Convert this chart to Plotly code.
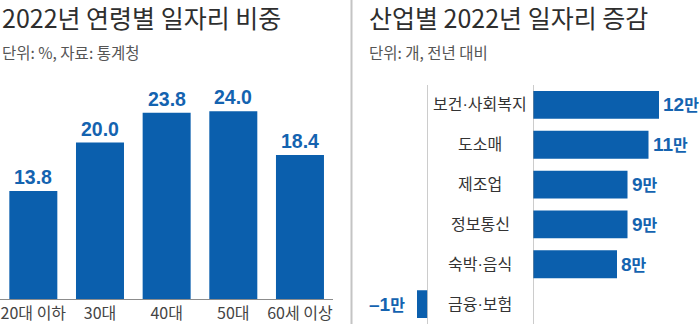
import plotly.graph_objects as go

# 연령별 일자리 비중 (%)
age_groups = ["20대 이하", "30대", "40대", "50대", "60세 이상"]
age_share = [13.8, 20.0, 23.8, 24.0, 18.4]

# 산업별 일자리 증감 (만 개, 전년 대비)
industries = ["보건·사회복지", "도소매", "제조업", "정보통신", "숙박·음식", "금융·보험"]
industry_change = [12, 11, 9, 9, 8, -1]

W, H = 700, 324
BLUE = "#0b5fad"
LABEL_BLUE = "#1463b0"
KR = "Noto Sans CJK KR"
NUM = "Liberation Sans, Arial, Noto Sans CJK KR"
MIXED = "Liberation Sans, Noto Sans CJK KR"


def px(x):
    return x / W


def py(y):
    return (H - y) / H


fig = go.Figure()

# Left panel: vertical bars by age group
fig.add_trace(go.Bar(
    x=age_groups, y=age_share, marker_color=BLUE, marker_line_width=0,
    xaxis="x", yaxis="y", hoverinfo="skip",
))

# Right panel: positive and negative industries on split axes
pos_cats = [c for c, v in zip(industries, industry_change) if v >= 0]
pos_vals = [v for v in industry_change if v >= 0]
neg_cats = [c for c, v in zip(industries, industry_change) if v < 0]
neg_vals = [v for v in industry_change if v < 0]

fig.add_trace(go.Bar(
    x=pos_vals, y=pos_cats, orientation="h", marker_color=BLUE,
    marker_line_width=0, xaxis="x2", yaxis="y2", hoverinfo="skip", width=0.7,
))
fig.add_trace(go.Bar(
    x=neg_vals, y=neg_cats, orientation="h", marker_color=BLUE,
    marker_line_width=0, xaxis="x3", yaxis="y2", hoverinfo="skip", width=0.7,
))

annotations = []

# value labels above vertical bars
for cat, val in zip(age_groups, age_share):
    annotations.append(dict(
        x=cat, y=val, xref="x", yref="y", text=f"{val:.1f}",
        showarrow=False, yanchor="bottom", yshift=1,
        font=dict(family=NUM, size=19.5, color=LABEL_BLUE, weight="bold"),
    ))

# industry names between the split axes
for cat in industries:
    annotations.append(dict(
        x=px(480), y=cat, xref="paper", yref="y2", text=cat,
        showarrow=False, xanchor="center",
        font=dict(family=MIXED, size=16, color="#333333"),
    ))

# value labels at bar ends
for cat, val in zip(industries, industry_change):
    sign = "–" if val < 0 else ""
    annotations.append(dict(
        x=val, y=cat, xref="x2" if val >= 0 else "x3", yref="y2",
        text=f"{sign}{abs(val)}<span style='font-size:16px'>만</span>",
        showarrow=False,
        xanchor="left" if val >= 0 else "right",
        xshift=2 if val >= 0 else -10,
        font=dict(family=NUM, size=19, color=LABEL_BLUE, weight="bold"),
    ))

# titles and units
annotations += [
    dict(x=0, y=py(17), xref="paper", yref="paper", text="2022년 연령별 일자리 비중",
         showarrow=False, xanchor="left", yanchor="middle",
         font=dict(family=KR, size=25, color="#2e2e2e")),
    dict(x=0, y=py(52), xref="paper", yref="paper", text="단위: %, 자료: 통계청",
         showarrow=False, xanchor="left", yanchor="middle",
         font=dict(family=KR, size=15.5, color="#555555")),
    dict(x=px(367), y=py(17), xref="paper", yref="paper", text="산업별 2022년 일자리 증감",
         showarrow=False, xanchor="left", yanchor="middle",
         font=dict(family=KR, size=25, color="#2e2e2e")),
    dict(x=px(367), y=py(52), xref="paper", yref="paper", text="단위: 개, 전년 대비",
         showarrow=False, xanchor="left", yanchor="middle",
         font=dict(family=KR, size=15.5, color="#555555")),
]

shapes = [
    # panel divider
    dict(type="line", xref="paper", yref="paper", x0=px(351.5), x1=px(351.5), y0=0, y1=1,
         line=dict(color="#c4c4c4", width=2)),
    # zero lines of the split axes
    dict(type="line", xref="x2", yref="y2 domain", x0=0, x1=0, y0=0, y1=1,
         line=dict(color="#9a9a9a", width=1)),
    dict(type="line", xref="x3", yref="y2 domain", x0=0, x1=0, y0=0, y1=1,
         line=dict(color="#9a9a9a", width=1)),
]

fig.update_layout(
    width=W, height=H, margin=dict(l=0, r=0, t=0, b=0),
    paper_bgcolor="white", plot_bgcolor="white", showlegend=False,
    bargap=0.28, annotations=annotations, shapes=shapes,
    xaxis=dict(domain=[0, px(333.3)], showgrid=False, zeroline=False,
               showline=True, linecolor="#8c8c8c", linewidth=1, ticks="",
               tickfont=dict(family=KR, size=16, color="#444444"), fixedrange=True),
    yaxis=dict(domain=[py(299), py(80)], range=[0, 28], visible=False, fixedrange=True),
    xaxis2=dict(domain=[px(533), px(674.75)], range=[0, 13.5], visible=False,
                anchor="y2", fixedrange=True),
    xaxis3=dict(domain=[px(411.75), px(427.5)], range=[-1.5, 0], visible=False,
                anchor="y2", fixedrange=True),
    yaxis2=dict(domain=[0, py(85)], autorange="reversed", visible=False,
                anchor="x2", categoryorder="array", categoryarray=industries,
                fixedrange=True),
)

fig.write_html("out.html", config={"displayModeBar": False})
